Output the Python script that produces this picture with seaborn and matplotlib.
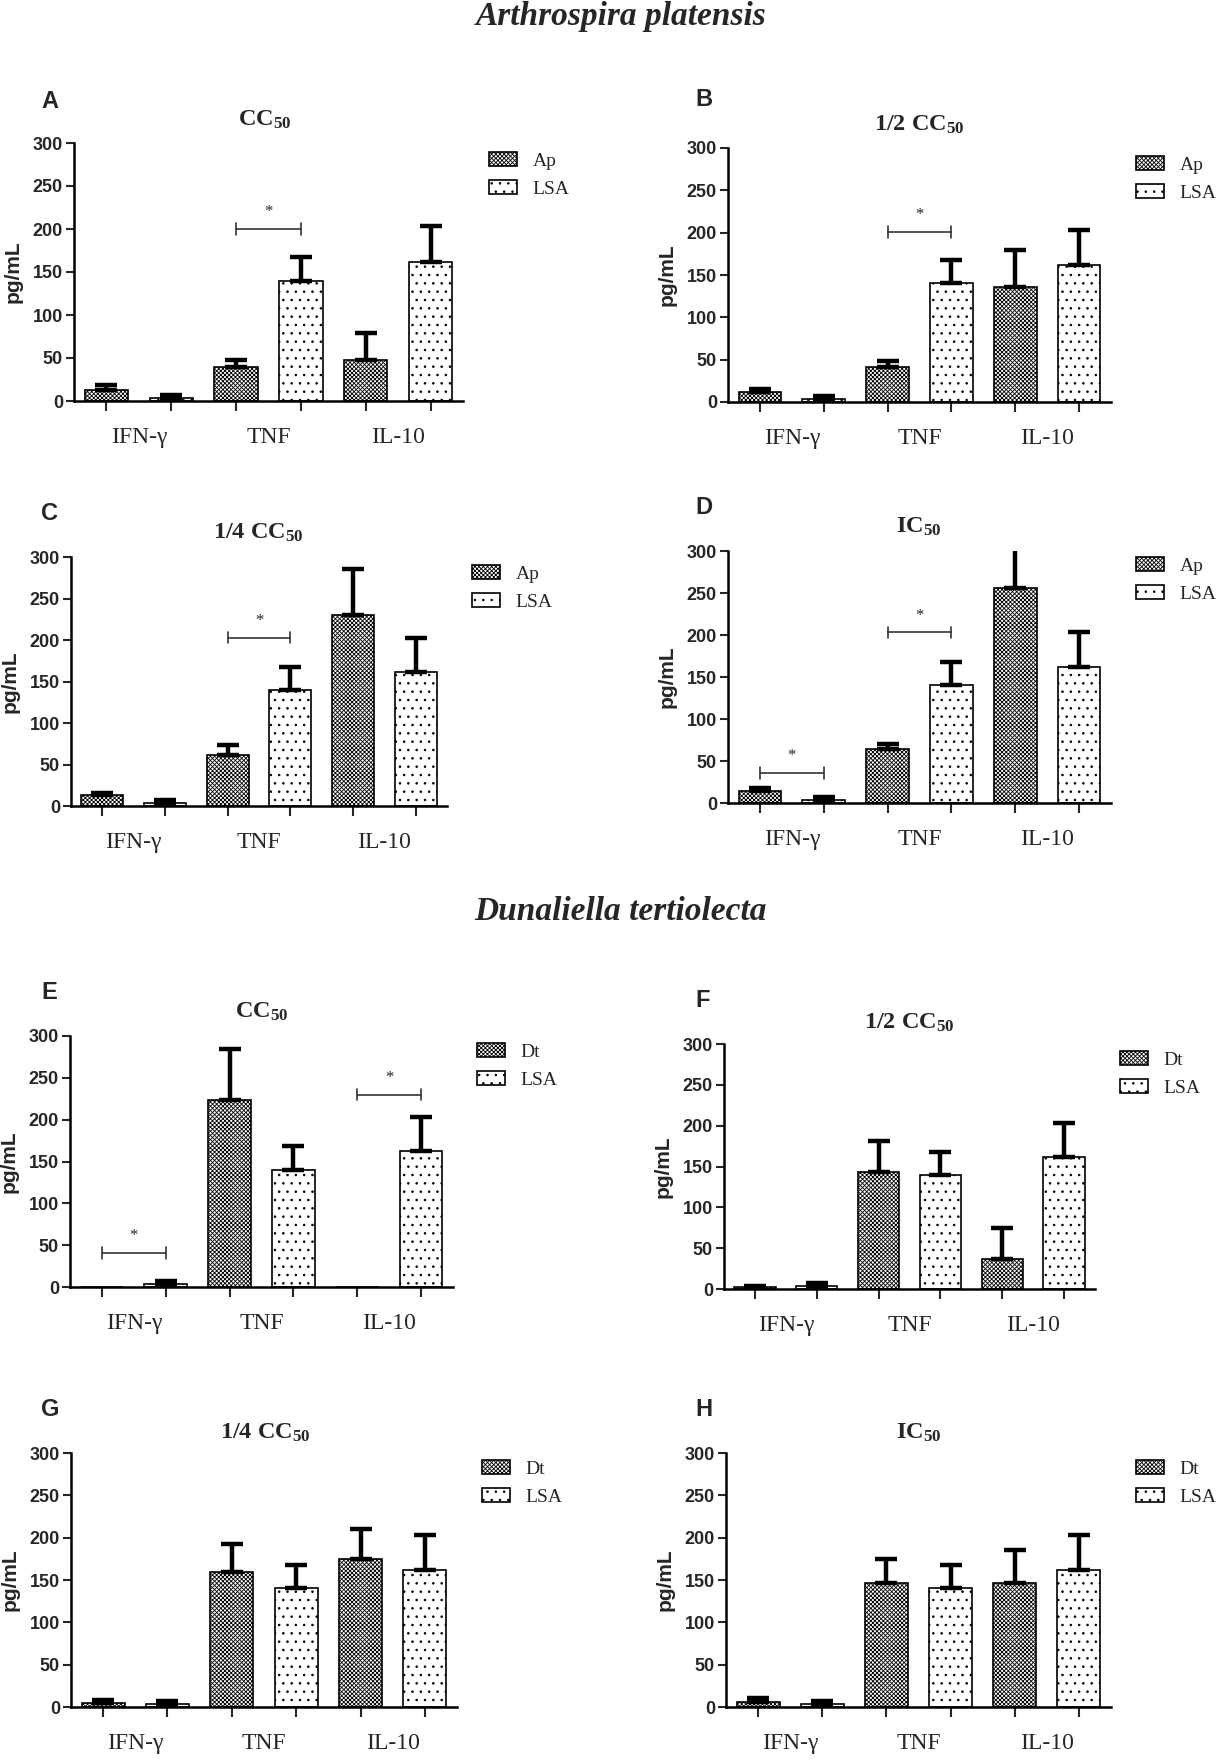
import matplotlib
matplotlib.use("Agg")
import matplotlib.pyplot as plt
import pandas as pd
import seaborn as sns
from matplotlib.patches import Patch

# ---------------------------
# Data (pg/mL, mean and upper error)
# ---------------------------
cytokines = ["IFN-γ", "TNF", "IL-10"]

lsa_mean = [4, 140, 162]
lsa_err = [3, 28, 41]

# Arthrospira platensis (Ap)
ap_cc50_mean = [13, 40, 48]
ap_cc50_err = [6, 8, 31]
ap_half_mean = [12, 41, 136]
ap_half_err = [3, 7, 43]
ap_quarter_mean = [13, 61, 230]
ap_quarter_err = [3, 12, 55]
ap_ic50_mean = [14, 64, 256]
ap_ic50_err = [4, 6, 48]

# Dunaliella tertiolecta (Dt)
dt_cc50_mean = [0, 224, 0]
dt_cc50_err = [0, 61, 0]
dt_half_mean = [2, 143, 37]
dt_half_err = [2, 38, 38]
dt_quarter_mean = [5, 160, 175]
dt_quarter_err = [3, 32, 35]
dt_ic50_mean = [6, 146, 147]
dt_ic50_err = [5, 29, 39]

# significance brackets: (cytokine index, bracket height)
sig_a = [(1, 200)]
sig_b = [(1, 201)]
sig_c = [(1, 203)]
sig_d = [(0, 36), (1, 203)]
sig_e = [(0, 41), (2, 230)]

titles = ["CC$_{50}$", "1/2 CC$_{50}$", "1/4 CC$_{50}$", "IC$_{50}$"]

# ---------------------------
# Style
# ---------------------------
sns.set_theme(style="ticks")
plt.rcParams["font.family"] = ["Liberation Sans", "DejaVu Sans"]
plt.rcParams["mathtext.fontset"] = "custom"
plt.rcParams["mathtext.bf"] = "Liberation Serif:bold"
plt.rcParams["mathtext.rm"] = "Liberation Serif"
plt.rcParams["mathtext.default"] = "bf"
plt.rcParams["hatch.linewidth"] = 0.6

SERIF = ["Liberation Serif", "DejaVu Serif"]
W, H = 1218, 1760
fig = plt.figure(figsize=(W / 100, H / 100), dpi=100)


def px(x, y):
    return x / W, 1 - y / H


# layout in pixels: axes box (left, top, right, bottom), title, letter, legend corner
panels = [
    ("A", titles[0], "Ap", ap_cc50_mean, ap_cc50_err, sig_a,
     (74, 143, 463, 401), (265, 120), (41, 102), (489, 152)),
    ("B", titles[1], "Ap", ap_half_mean, ap_half_err, sig_b,
     (728, 148, 1111, 402), (919, 125), (695, 100), (1136, 156)),
    ("C", titles[2], "Ap", ap_quarter_mean, ap_quarter_err, sig_c,
     (71, 557, 447, 806), (258, 533), (41, 513), (472, 565)),
    ("D", titles[3], "Ap", ap_ic50_mean, ap_ic50_err, sig_d,
     (728, 551, 1111, 803), (919, 527), (695, 507), (1136, 557)),
    ("E", titles[0], "Dt", dt_cc50_mean, dt_cc50_err, sig_e,
     (70, 1036, 453, 1287), (262, 1012), (41, 992), (477, 1043)),
    ("F", titles[1], "Dt", dt_half_mean, dt_half_err, [],
     (724, 1044, 1095, 1289), (909, 1023), (695, 1000), (1120, 1051)),
    ("G", titles[2], "Dt", dt_quarter_mean, dt_quarter_err, [],
     (71, 1453, 457, 1707), (265, 1433), (41, 1409), (482, 1460)),
    ("H", titles[3], "Dt", dt_ic50_mean, dt_ic50_err, [],
     (726, 1453, 1111, 1707), (919, 1433), (695, 1409), (1136, 1460)),
]

hatches = ["xxxxxxxx", ".."]

for letter, title, org, mean, err, sigs, box, tpos, lpos, legpos in panels:
    left, top, right, bottom = box
    ax = fig.add_axes([left / W, 1 - bottom / H, (right - left) / W, (bottom - top) / H])

    df = pd.DataFrame({
        "cytokine": cytokines * 2,
        "value": mean + lsa_mean,
        "group": [org] * 3 + ["LSA"] * 3,
    })
    sns.barplot(data=df, x="cytokine", y="value", hue="group", order=cytokines,
                hue_order=[org, "LSA"], palette=["white", "white"], saturation=1,
                width=1.0, gap=0.33, errorbar=None, edgecolor="black", linewidth=1.2,
                legend=False, ax=ax)

    for cont, hatch, errs in zip(ax.containers, hatches, [err, lsa_err]):
        for bar, e in zip(cont, errs):
            bar.set_hatch(hatch)
            if e > 0:
                xc = bar.get_x() + bar.get_width() / 2
                ax.errorbar(xc, bar.get_height(), yerr=[[0], [e]], fmt="none",
                            ecolor="black", elinewidth=3.2, capsize=8, capthick=3.2, zorder=3)

    centers = sorted(b.get_x() + b.get_width() / 2 for b in ax.patches)
    ax.set_xlim(-0.5, 2.5)
    ax.set_ylim(0, 300)
    ax.set_xticks(centers, [""] * len(centers))
    ax.set_xticks(range(3), cytokines, minor=True)
    ax.tick_params(axis="x", which="major", length=7, width=1.5, direction="out")
    ax.tick_params(axis="x", which="minor", length=0, pad=19, labelsize=17)
    for lab in ax.get_xticklabels(minor=True):
        lab.set_family(SERIF)
    ax.set_yticks(range(0, 301, 50))
    ax.tick_params(axis="y", length=6, width=1.5, labelsize=13, pad=2)
    for lab in ax.get_yticklabels():
        lab.set_fontweight("bold")
    ax.set_xlabel("")
    ax.set_ylabel("pg/mL", fontsize=15, fontweight="bold")
    ax.yaxis.set_label_coords(-51 / (right - left), 0.5)
    sns.despine(ax=ax)
    for s in ["left", "bottom"]:
        ax.spines[s].set_linewidth(1.8)
        ax.spines[s].set_color("black")

    # significance brackets
    for idx, yb in sigs:
        x1, x2 = centers[2 * idx], centers[2 * idx + 1]
        ax.plot([x1, x2], [yb, yb], color="#333333", lw=1.2)
        ax.plot([x1, x1], [yb - 7, yb + 7], color="#333333", lw=1.2)
        ax.plot([x2, x2], [yb - 7, yb + 7], color="#333333", lw=1.2)
        ax.text((x1 + x2) / 2, yb + 20, "*", ha="center", va="center",
                fontsize=12, family=SERIF)

    handles = [Patch(facecolor="white", edgecolor="black", hatch=h, lw=1.2) for h in hatches]
    ax.legend(handles, [org, "LSA"], loc="upper left", bbox_to_anchor=px(*legpos),
              bbox_transform=fig.transFigure, frameon=False, borderpad=0,
              borderaxespad=0, handlelength=1.45, handleheight=0.7,
              handletextpad=0.8, labelspacing=0.55, prop={"family": SERIF, "size": 14})

    fig.text(*px(*tpos), title, ha="center", va="center", fontsize=17.5,
             fontweight="bold", family=SERIF)
    fig.text(*px(*lpos), letter, ha="left", va="center", fontsize=17, fontweight="bold")

fig.text(*px(621, 16), "Arthrospira platensis", ha="center", va="center",
         fontsize=24, fontweight="bold", style="italic", family=SERIF)
fig.text(*px(621, 911), "Dunaliella tertiolecta", ha="center", va="center",
         fontsize=24, fontweight="bold", style="italic", family=SERIF)

fig.savefig("out.png", dpi=100)
